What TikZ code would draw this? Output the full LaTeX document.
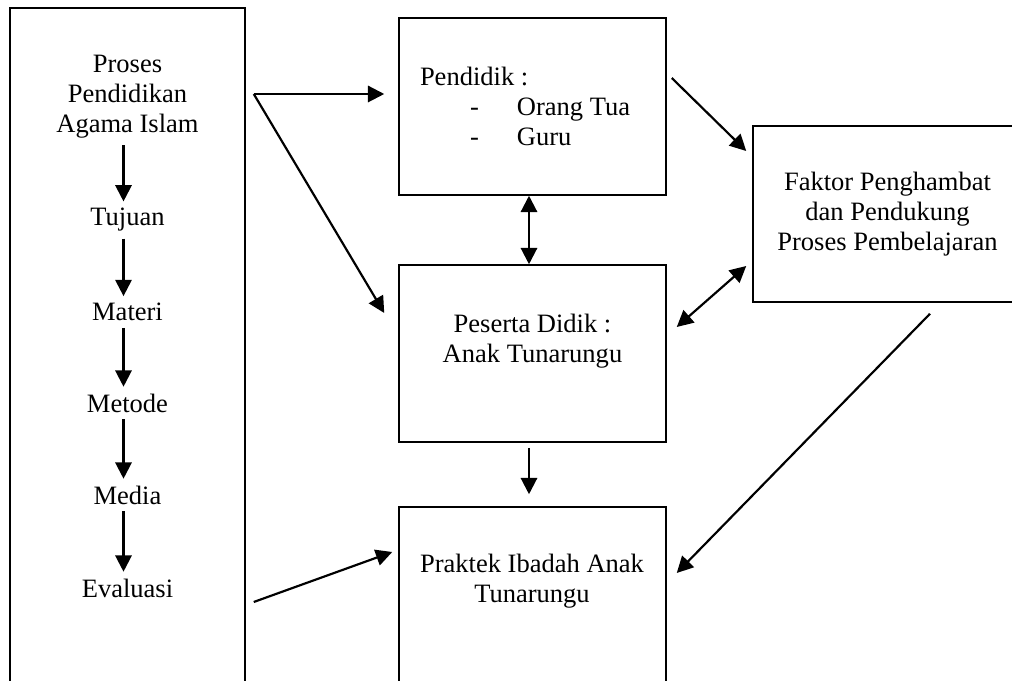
\documentclass[tikz,border=0pt]{standalone}
\usepackage{fontspec}
\setmainfont{Liberation Serif}
\usetikzlibrary{arrows.meta,calc}

\newlength{\pxlen}
\setlength{\pxlen}{0.46pt}
\tikzset{>={Triangle[length=7.5pt,width=7.5pt]}}

\begin{document}
\begin{tikzpicture}[x=\pxlen, y=-\pxlen, font=\fontsize{12.2pt}{13.8pt}\selectfont]

      \useasboundingbox (0,0) rectangle (1012,681);
      \clip (0,0) rectangle (1012,681);

      % kotak
      \begin{scope}[every node/.style={draw, rectangle, line width=0.7pt, inner sep=0pt}]
        \node (kotakpai)  at (127.5,354)  [minimum width=235*\pxlen, minimum height=692*\pxlen] {};
        \node (pendidik)  at (532.5,106.5) [text width=225*\pxlen, inner xsep=21*\pxlen,
                                            minimum height=177*\pxlen, align=flush left]
          {Pendidik :\\
           \hspace*{23pt}\makebox[21.6pt][l]{-}Orang Tua\\
           \hspace*{23pt}\makebox[21.6pt][l]{-}Guru};
        \node (peserta)   at (532.5,353.5) [minimum width=267*\pxlen, minimum height=177*\pxlen, align=center]
          {Peserta Didik :\\Anak Tunarungu\\\mbox{}};
        \node (praktek)   at (532.5,603.5) [minimum width=267*\pxlen, minimum height=193*\pxlen] {};
        \node (faktor)    at (887.5,214)   [minimum width=269*\pxlen, minimum height=176*\pxlen, align=center]
          {Faktor Penghambat\\dan Pendukung\\Proses Pembelajaran};
      \end{scope}

      % teks
      \begin{scope}[every node/.style={inner sep=3pt, align=center}]
        \node (proses)      at (127.5,97)  {Proses\\Pendidikan\\Agama Islam};
        \node (tujuan)      at (127.5,220) {Tujuan};
        \node (materi)      at (127.5,312) {Materi};
        \node (metode)      at (127.5,403) {Metode};
        \node (media)       at (127.5,495) {Media};
        \node (evaluasi)    at (127.5,588) {Evaluasi};
        \node (praktekteks) at (532,581)   {Praktek Ibadah Anak\\Tunarungu};
      \end{scope}

      \coordinate (cabang) at ($(proses -| kotakpai.east)+(8,-3)$);

      \begin{scope}[every edge/.style={draw, line width=1pt}]
        \path ([xshift=-4*\pxlen]proses.south) edge[->] ([xshift=-4*\pxlen]tujuan.north);
        \path ([xshift=-4*\pxlen]tujuan.south) edge[->] ([xshift=-4*\pxlen]materi.north);
        \path ([xshift=-4*\pxlen]materi.south) edge[->] ([xshift=-4*\pxlen]metode.north);
        \path ([xshift=-4*\pxlen]metode.south) edge[->] ([xshift=-4*\pxlen]media.north);
        \path ([xshift=-4*\pxlen]media.south)  edge[->] ([xshift=-4*\pxlen]evaluasi.north);
        \path (cabang) edge[->] ($(pendidik.west)+(-14,-12.5)$);
        \path (cabang) edge[->] ($(peserta.west)+(-14,-40.5)$);
        \path ($(pendidik.east)+(5,-28.5)$) edge[->] ($(faktor.west)+(-6,-63)$);
        \path ($(faktor.west)+(-6,52)$) edge[<->] ($(peserta.east)+(10,-26.5)$);
        \path ($(faktor.south)+(42.5,11)$) edge[->] ($(praktek.east)+(10,-30.5)$);
        \path ($(evaluasi -| kotakpai.east)+(8,14)$) edge[->] ($(praktek.west)+(-6,-51.5)$);
        \path ([xshift=-3.5*\pxlen]pendidik.south) edge[<->] ([xshift=-3.5*\pxlen]peserta.north);
        \path ([xshift=-3.5*\pxlen]peserta.south) edge[->, shorten <=5*\pxlen, shorten >=12*\pxlen]
              ([xshift=-3.5*\pxlen]praktek.north);
      \end{scope}

    \end{tikzpicture}
\end{document}
